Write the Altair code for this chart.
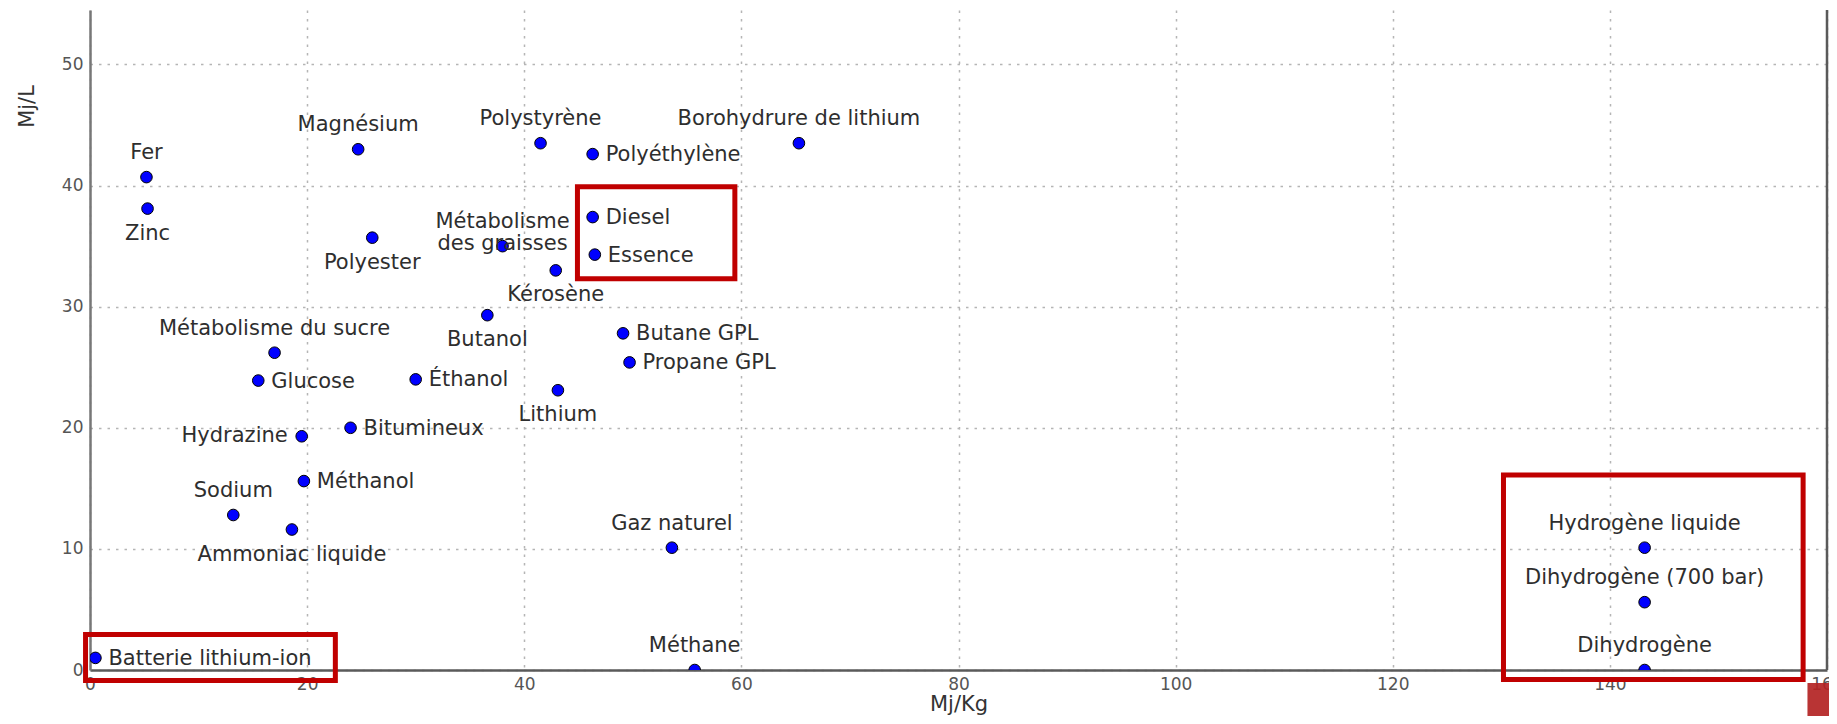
import altair as alt
import pandas as pd

# ---- data -------------------------------------------------------------
names = [
    "Fer", "Zinc", "Magnésium", "Polyester", "Polystyrène", "Polyéthylène",
    "Borohydrure de lithium", "Métabolisme\ndes graisses", "Diesel", "Essence",
    "Kérosène", "Butanol", "Butane GPL", "Propane GPL", "Lithium",
    "Métabolisme du sucre", "Glucose", "Éthanol", "Hydrazine", "Bitumineux",
    "Méthanol", "Sodium", "Ammoniac liquide", "Gaz naturel", "Méthane",
    "Batterie lithium-ion", "Hydrogène liquide", "Dihydrogène (700 bar)",
    "Dihydrogène",
]
mj_kg = [5.2, 5.3, 24.7, 26.0, 41.5, 46.3, 65.3, 38.0, 46.3, 46.5,
         42.9, 36.6, 49.1, 49.7, 43.1, 17.0, 15.5, 30.0, 19.5, 24.0,
         19.7, 13.2, 18.6, 53.6, 55.7, 0.5, 143.2, 143.2, 143.2]
mj_l = [40.7, 38.1, 43.0, 35.7, 43.5, 42.6, 43.5, 35.0, 37.4, 34.3,
        33.0, 29.3, 27.8, 25.4, 23.1, 26.2, 23.9, 24.0, 19.3, 20.0,
        15.6, 12.8, 11.6, 10.1, 0.0, 1.0, 10.1, 5.6, 0.0]
placement = ["above", "below", "above", "below", "above", "right",
             "above", "above", "right", "right",
             "below", "below", "right", "right", "below",
             "above", "right", "right", "left", "right",
             "right", "above", "below", "above", "above",
             "right", "above", "above", "above"]

x_ticks = [0, 20, 40, 60, 80, 100, 120, 140, 160]
y_ticks = [0, 10, 20, 30, 40, 50]
x_domain = [0, 160]
y_domain = [0, 54.5]

# highlight boxes (in data units)
box_x0 = [-0.41, 44.9, 130.2]
box_x1 = [22.6, 59.4, 157.8]
box_y0 = [-0.87, 32.3, -0.79]
box_y1 = [2.93, 39.9, 16.1]

# red patch in the lower-right corner (data units)
patch_x0 = [158.2]
patch_x1 = [161.0]
patch_y0 = [-1.07]
patch_y1 = [-5.0]

df = pd.DataFrame({"name": names, "mjkg": mj_kg, "mjl": mj_l, "pos": placement})
boxes = pd.DataFrame({"x0": box_x0, "x1": box_x1, "y0": box_y0, "y1": box_y1})
patch = pd.DataFrame({"x0": patch_x0, "x1": patch_x1, "y0": patch_y0, "y1": patch_y1})
frame = pd.DataFrame({"x": [x_domain[1]], "y0": [y_domain[0]], "y1": [y_domain[1]]})

FONT = "DejaVu Sans"
xscale = alt.Scale(domain=x_domain, nice=False, zero=False)
yscale = alt.Scale(domain=y_domain, nice=False, zero=False)
grid_dash = [2.5, 6]

x_axis = alt.Axis(values=x_ticks, title="Mj/Kg", titleFontSize=21, titleFontWeight="normal",
                  titleFont=FONT, titleColor="#333", titlePadding=1,
                  labelFont=FONT, labelFontSize=17, labelColor="#555", labelPadding=6,
                  labelFlush=False, ticks=False, grid=True, gridDash=grid_dash,
                  gridColor="#b5b5b5", gridWidth=1.5, domainColor="#5a5a5a", domainWidth=2.5)
y_axis = alt.Axis(values=y_ticks, title="Mj/L", titleFontSize=21, titleFontWeight="normal",
                  titleFont=FONT, titleColor="#333", titleX=-63, titleY=96,
                  titleAlign="center", titleBaseline="middle",
                  labelFont=FONT, labelFontSize=17, labelColor="#555", labelPadding=7,
                  labelFlush=False, ticks=False, grid=True, gridDash=grid_dash,
                  gridColor="#b5b5b5", gridWidth=1.5, domainColor="#777", domainWidth=2.5)

base = alt.Chart(df)

points = base.mark_point(filled=True, fill="#0000ff", stroke="#000", strokeWidth=1,
                         size=135, opacity=1, clip=True).encode(
    x=alt.X("mjkg:Q", scale=xscale, axis=x_axis),
    y=alt.Y("mjl:Q", scale=yscale, axis=y_axis),
)


def labels(pos, **kw):
    return base.transform_filter(alt.datum.pos == pos).mark_text(
        font=FONT, fontSize=21, color="#2e2e2e", lineBreak="\n", lineHeight=22, **kw
    ).encode(
        x=alt.X("mjkg:Q", scale=xscale),
        y=alt.Y("mjl:Q", scale=yscale),
        text="name:N",
    )


lab_above = labels("above", align="center", baseline="bottom", dy=-14)
lab_below = labels("below", align="center", baseline="top", dy=14)
lab_right = labels("right", align="left", baseline="middle", dx=13, dy=1)
lab_left = labels("left", align="right", baseline="middle", dx=-14, dy=0)

frame_layer = alt.Chart(frame).mark_rule(color="#5a5a5a", strokeWidth=2.5, clip=False).encode(
    x=alt.X("x:Q", scale=xscale), y=alt.Y("y0:Q", scale=yscale), y2="y1:Q",
)

box_layer = alt.Chart(boxes).mark_rect(filled=False, stroke="#c00000", strokeWidth=5,
                                       clip=False).encode(
    x=alt.X("x0:Q", scale=xscale), x2="x1:Q",
    y=alt.Y("y0:Q", scale=yscale), y2="y1:Q",
)

patch_layer = alt.Chart(patch).mark_rect(fill="#b32323", opacity=0.92, clip=False).encode(
    x=alt.X("x0:Q", scale=xscale), x2="x1:Q",
    y=alt.Y("y0:Q", scale=yscale), y2="y1:Q",
)

chart = alt.layer(points, lab_above, lab_below, lab_right, lab_left,
                  frame_layer, box_layer, patch_layer).properties(
    width=1737, height=660,
    autosize=alt.AutoSizeParams(type="none"),
    padding={"left": 82, "top": 2, "right": 2, "bottom": 46},
    background="white",
).configure_view(stroke="transparent")

chart.save("out.html", embed_options={"renderer": "svg", "actions": False})
